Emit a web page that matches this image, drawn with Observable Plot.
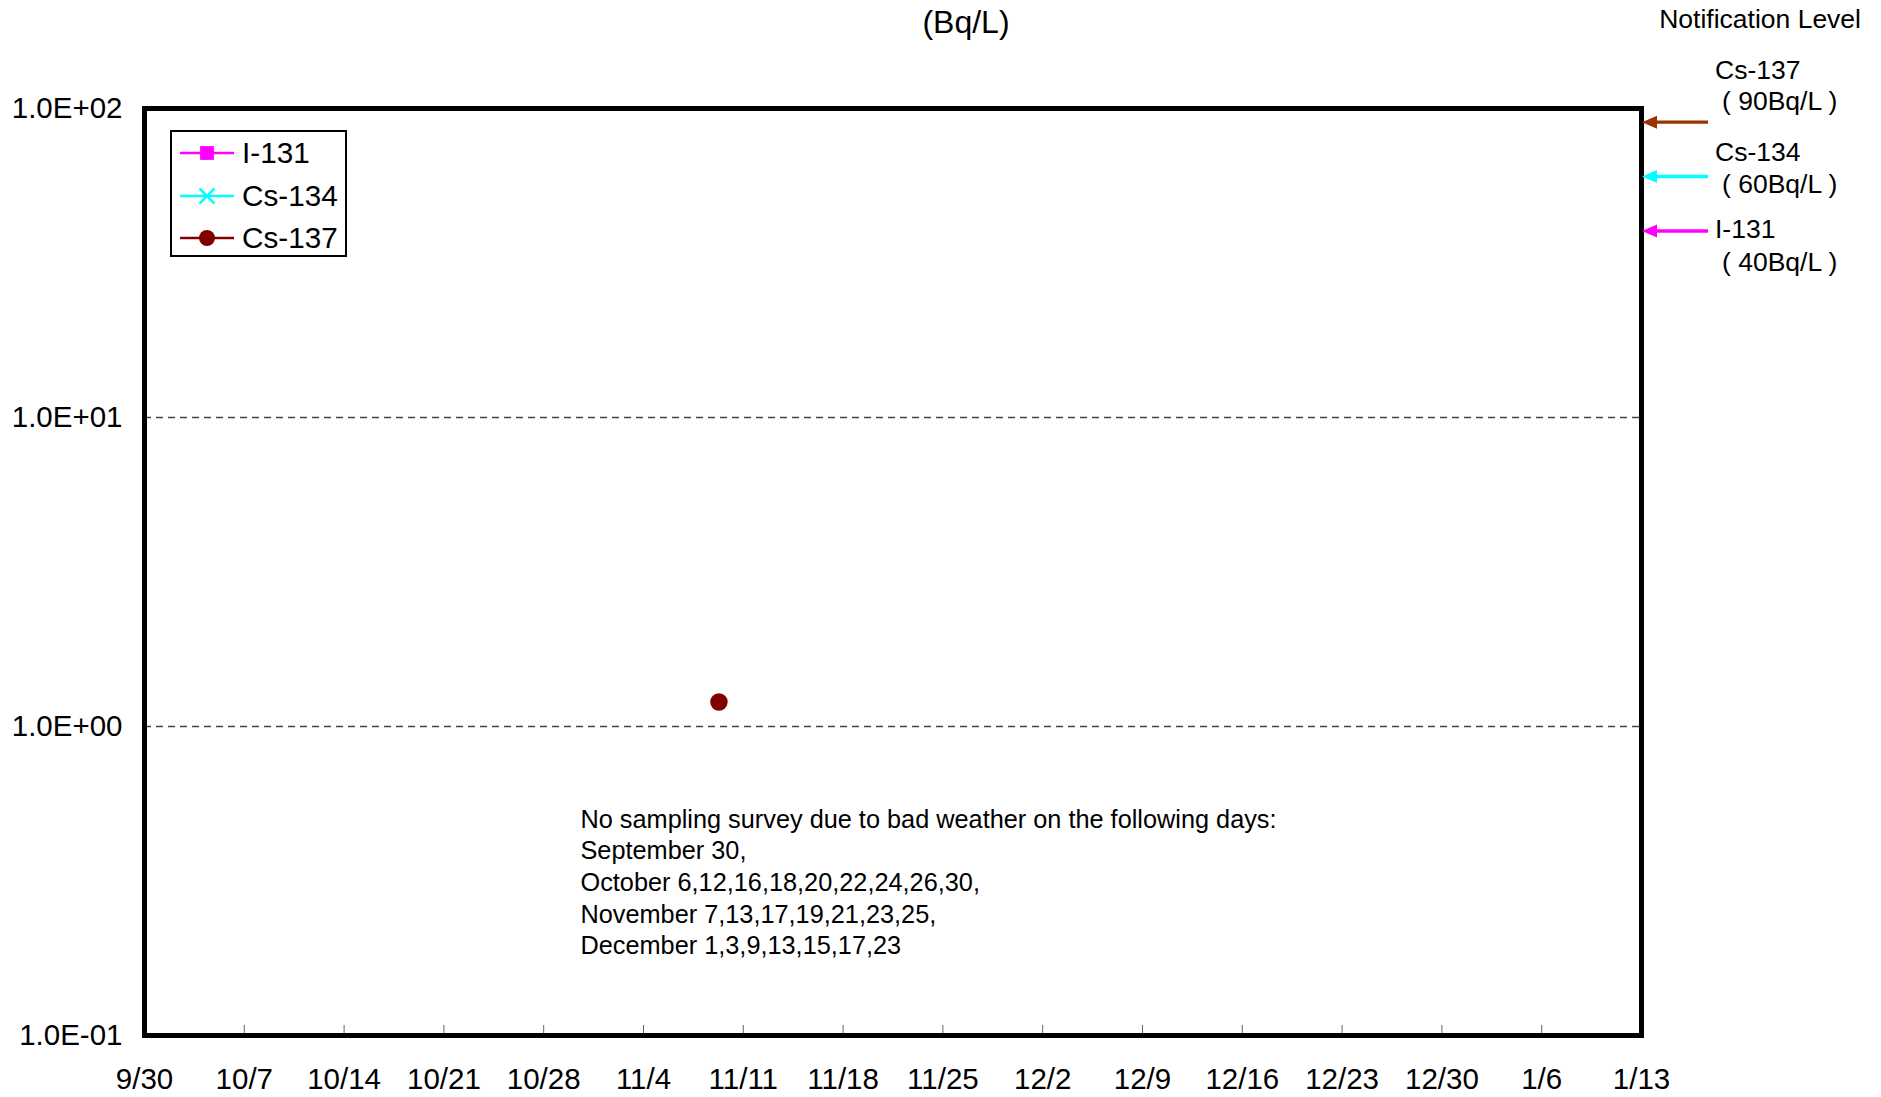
<!DOCTYPE html>
<html><head><meta charset="utf-8">
<script src="https://cdn.jsdelivr.net/npm/d3@7"></script>
<script src="https://cdn.jsdelivr.net/npm/@observablehq/plot@0.6"></script>
<style>
body{margin:0;background:#fff;font-family:"Liberation Sans",Arial,sans-serif;}
#wrap{position:relative;width:1881px;height:1097px;overflow:hidden;}
#legend{position:absolute;left:170px;top:130px;width:177px;height:127px;border:2.5px solid #000;background:#fff;box-sizing:border-box;}
.row{position:absolute;left:0;height:40px;display:flex;align-items:center;font-size:29.7px;color:#000;}
.row svg{margin-left:8px;margin-right:8px;}
</style></head><body><div id="wrap"></div>
<script>
// ---- data ----
const seriesNames = ["I-131", "Cs-134", "Cs-137"];
const seriesColors = ["#ff00ff", "#00ffff", "#800000"];
const seriesSymbols = ["square", "times", "circle"];
const sampleDates = ["2012-11-09T07:00"];
const i131 = [null];
const cs134 = [null];
const cs137 = [1.2];
const tickDates = ["2012-09-30","2012-10-07","2012-10-14","2012-10-21","2012-10-28","2012-11-04","2012-11-11",
  "2012-11-18","2012-11-25","2012-12-02","2012-12-09","2012-12-16","2012-12-23","2012-12-30","2013-01-06","2013-01-13"];
const yTicks = [0.1, 1, 10, 100];
const gridValues = [1, 10];
const levelNames = ["Cs-137", "Cs-134", "I-131"];
const levelValues = [90, 60, 40];
const levelColors = ["#993300", "#00ffff", "#ff00ff"];
const unitLabel = "(Bq/L)";
const levelTitle = "Notification Level";
const noteLines = [
  "No sampling survey due to bad weather on the following days:",
  "September 30,",
  "October 6,12,16,18,20,22,24,26,30,",
  "November 7,13,17,19,21,23,25,",
  "December 1,3,9,13,15,17,23"
];
const noteDate = "2012-10-31";
const noteValue = 0.556;

// ---- build ----
const parseDay = d3.utcParse("%Y-%m-%d");
const parseTime = d3.utcParse("%Y-%m-%dT%H:%M");
const ticks = tickDates.map(parseDay);
const seriesArrays = [i131, cs134, cs137];
const points = [];
sampleDates.forEach((d, i) => {
  seriesArrays.forEach((arr, k) => {
    if (arr[i] != null) points.push({date: parseTime(d), value: arr[i], series: seriesNames[k]});
  });
});
const fmtE = d => {
  const e = Math.round(Math.log10(d));
  return "1.0E" + (e < 0 ? "-" : "+") + String(Math.abs(e)).padStart(2, "0");
};
const font = '"Liberation Sans", Arial, sans-serif';

const plot = Plot.plot({
  width: 1881, height: 1097,
  marginLeft: 144, marginRight: 240, marginTop: 108, marginBottom: 62,
  style: {fontFamily: font, fontSize: "29.5px", color: "#000", background: "#fff", overflow: "visible"},
  x: {type: "utc", domain: [ticks[0], ticks[ticks.length - 1]]},
  y: {type: "log", domain: [yTicks[0], yTicks[yTicks.length - 1]]},
  color: {domain: seriesNames, range: seriesColors},
  symbol: {domain: seriesNames, range: seriesSymbols},
  marks: [
    Plot.ruleY(gridValues, {stroke: "#444", strokeWidth: 1.3, strokeDasharray: "7,5"}),
    Plot.axisY({ticks: yTicks, tickFormat: fmtE, tickSize: 0, tickPadding: 22, label: null, fontSize: 29.5, fill: "#000"}),
    Plot.axisX({ticks: ticks.slice(1, -1), tickSize: 10, dy: -10, text: null, label: null, stroke: "#666"}),
    Plot.axisX({ticks: ticks, tickFormat: d3.utcFormat("%-m/%-d"), tickSize: 0, tickPadding: 33, label: null, fontSize: 29.5, fill: "#000"}),
    Plot.line(points, {x: "date", y: "value", z: "series", stroke: "series", strokeWidth: 2}),
    Plot.dot(points, {x: "date", y: "value", fill: "series", stroke: "series", symbol: "series", r: 8}),
    Plot.text([noteLines.join("\n")], {x: () => parseDay(noteDate), y: () => noteValue, text: d => d, textAnchor: "start", lineAnchor: "top", lineHeight: 1.25, fontSize: 25.3, dx: -6, fill: "#000"}),
    Plot.frame({stroke: "#000", strokeWidth: 5})
  ]
});
document.getElementById("wrap").appendChild(plot);

// ---- notification level arrows (positioned with the plot's own scales) ----
const ys = plot.scale("y"), xs = plot.scale("x");
const yScale = d3.scaleLog().domain(ys.domain).range(ys.range);
const xScale = d3.scaleUtc().domain(xs.domain).range(xs.range);
const xEnd = xScale(ticks[ticks.length - 1]);
const svg = d3.select(plot);
const labelOffsets = [[-52, -21], [-25, 7], [-2, 31]];
levelValues.forEach((v, i) => {
  const y = yScale(v);
  const tip = xEnd + 1;
  svg.append("line").attr("x1", tip + 12).attr("x2", xEnd + 67).attr("y1", y).attr("y2", y)
    .attr("stroke", levelColors[i]).attr("stroke-width", 3.4);
  svg.append("polygon").attr("points", `${tip},${y} ${tip + 15},${y - 6.5} ${tip + 15},${y + 6.5}`)
    .attr("fill", levelColors[i]);
  svg.append("text").attr("x", xEnd + 74).attr("y", y + labelOffsets[i][0]).attr("dy", "0.35em")
    .attr("text-anchor", "start")
    .attr("font-size", 26.5).attr("font-family", font).attr("fill", "#000").text(levelNames[i]);
  svg.append("text").attr("x", xEnd + 81).attr("y", y + labelOffsets[i][1]).attr("dy", "0.35em")
    .attr("text-anchor", "start")
    .attr("font-size", 26.5).attr("font-family", font).attr("fill", "#000")
    .style("white-space", "pre").text(`( ${v}Bq/L )`);
});
svg.append("text").attr("x", 966).attr("y", 22).attr("dy", "0.35em").attr("text-anchor", "middle")
  .attr("font-size", 32).attr("font-family", font).attr("fill", "#000").text(unitLabel);
svg.append("text").attr("x", 1861).attr("y", 19).attr("dy", "0.35em").attr("text-anchor", "end")
  .attr("font-size", 26.5).attr("font-family", font).attr("fill", "#000").text(levelTitle);

// ---- legend ----
const symbolTypes = {square: d3.symbolSquare, times: d3.symbolTimes, circle: d3.symbolCircle};
const legend = document.createElement("div");
legend.id = "legend";
seriesNames.forEach((name, i) => {
  const row = document.createElement("div");
  row.className = "row";
  row.style.top = (1 + i * 42.6) + "px";
  const s = d3.create("svg").attr("width", 54).attr("height", 30);
  s.append("line").attr("x1", 0).attr("x2", 54).attr("y1", 15).attr("y2", 15).attr("stroke", seriesColors[i]).attr("stroke-width", 2.5);
  const type = seriesSymbols[i];
  const sym = d3.symbol().type(symbolTypes[type]).size(type === "square" ? 190 : type === "times" ? 150 : 200);
  s.append("path").attr("d", sym()).attr("transform", "translate(27,15)")
    .attr("fill", type === "times" ? "none" : seriesColors[i])
    .attr("stroke", seriesColors[i]).attr("stroke-width", type === "times" ? 2.5 : 0);
  row.appendChild(s.node());
  const t = document.createElement("span");
  t.textContent = name;
  row.appendChild(t);
  legend.appendChild(row);
});
document.getElementById("wrap").appendChild(legend);
</script></body></html>
